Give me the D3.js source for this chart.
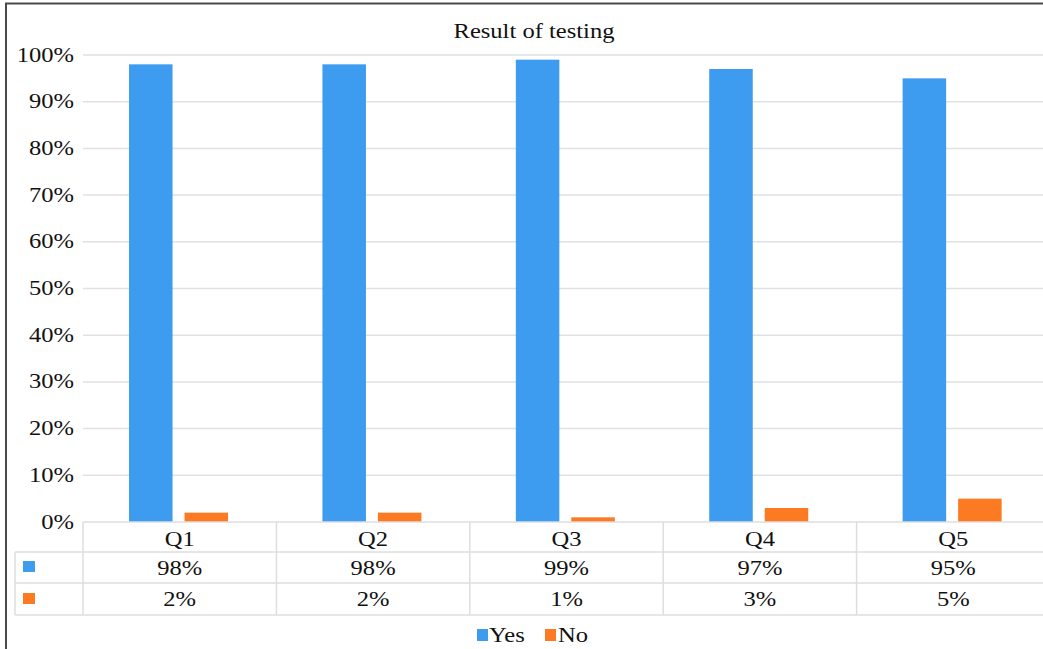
<!DOCTYPE html>
<html><head><meta charset="utf-8">
<script src="https://cdn.jsdelivr.net/npm/d3@7"></script>
<style>body{margin:0;background:#fff;overflow:hidden}svg{display:block}</style>
</head><body>
<script>
const categories = ["Q1","Q2","Q3","Q4","Q5"];
const seriesNames = ["Yes","No"];
const yesValues = [98,98,99,97,95];
const noValues = [2,2,1,3,5];
const yTicks = [0,10,20,30,40,50,60,70,80,90,100];
const title = "Result of testing";

const W = 1043, H = 649;
const colors = {Yes:"#3d9bf0", No:"#fc7b22"};
const font = "'Liberation Serif','Times New Roman',serif";
const SX = 1.17; // horizontal stretch of the text in reference

const svg = d3.select("body").append("svg").attr("width",W).attr("height",H);

const x0 = d3.scaleBand().domain(categories).range([83,1050]).padding(0);
const bw = x0.bandwidth();
const x1 = d3.scaleBand().domain(seriesNames).range([0.238*bw, 0.75*bw]).paddingInner(0.216).paddingOuter(0);
const y = d3.scaleLinear().domain([0,100]).range([522,55]);

function txt(g, x, yy, s, size, anchor){
  const t = g.append("g").attr("transform",`translate(${x},${yy}) scale(${SX},1)`);
  t.append("text").attr("x",0).attr("y",0).attr("text-anchor",anchor||"middle")
    .attr("font-family",font).attr("font-size",size).attr("fill","#111").text(s);
  return t;
}

// gridlines
svg.append("g").selectAll("line").data(yTicks.filter(d=>d>0)).join("line")
  .attr("x1",83).attr("x2",1050).attr("y1",d=>y(d)).attr("y2",d=>y(d))
  .attr("stroke","#e1e1e1").attr("stroke-width",1.5);

// y tick labels
const yl = svg.append("g");
yTicks.forEach(d=>txt(yl, 74, y(d)+6.5, d+"%", 21, "end"));

// bars
const data = categories.map((c,i)=>({cat:c, Yes:yesValues[i], No:noValues[i]}));
const groups = svg.append("g").selectAll("g").data(data).join("g")
  .attr("transform",d=>`translate(${x0(d.cat)},0)`);
groups.selectAll("rect").data(d=>seriesNames.map(k=>({k, v:d[k]}))).join("rect")
  .attr("x",d=>x1(d.k)).attr("width",x1.bandwidth())
  .attr("y",d=>y(d.v)).attr("height",d=>y(0)-y(d.v))
  .attr("fill",d=>colors[d.k]);

// data table
const tg = svg.append("g").attr("stroke","#dedede").attr("stroke-width",1.5);
const rowY = [522,552,583,615];
tg.append("line").attr("x1",83).attr("x2",1050).attr("y1",rowY[0]).attr("y2",rowY[0]);
[1,2,3].forEach(i=>tg.append("line").attr("x1",15).attr("x2",1050).attr("y1",rowY[i]).attr("y2",rowY[i]));
tg.append("line").attr("x1",15).attr("x2",15).attr("y1",rowY[1]).attr("y2",rowY[3]);
categories.forEach(c=>{
  tg.append("line").attr("x1",x0(c)).attr("x2",x0(c)).attr("y1",rowY[0]).attr("y2",rowY[3]);
});
tg.append("line").attr("x1",x0(categories[4])+bw).attr("x2",x0(categories[4])+bw).attr("y1",rowY[0]).attr("y2",rowY[3]);

const tt = svg.append("g");
categories.forEach((c,i)=>{
  const cx = x0(c)+bw/2;
  txt(tt, cx, 546, c, 21);
  txt(tt, cx, 575, yesValues[i]+"%", 21);
  txt(tt, cx, 606, noValues[i]+"%", 21);
});
// table legend keys
svg.append("rect").attr("x",23).attr("y",561).attr("width",12).attr("height",11).attr("fill",colors.Yes);
svg.append("rect").attr("x",23).attr("y",593).attr("width",12).attr("height",11).attr("fill",colors.No);

// title
txt(svg, 534, 38, title, 21);

// bottom legend
svg.append("rect").attr("x",477).attr("y",629).attr("width",11).attr("height",12).attr("fill",colors.Yes);
txt(svg, 489, 642, "Yes", 21, "start");
svg.append("rect").attr("x",545).attr("y",629).attr("width",11).attr("height",12).attr("fill",colors.No);
txt(svg, 558, 642, "No", 21, "start");

// outer border (top and left visible)
svg.append("path").attr("d","M6,649 V3.5 H1043").attr("fill","none").attr("stroke","#4a4a4a").attr("stroke-width",2);
</script>
</body></html>
